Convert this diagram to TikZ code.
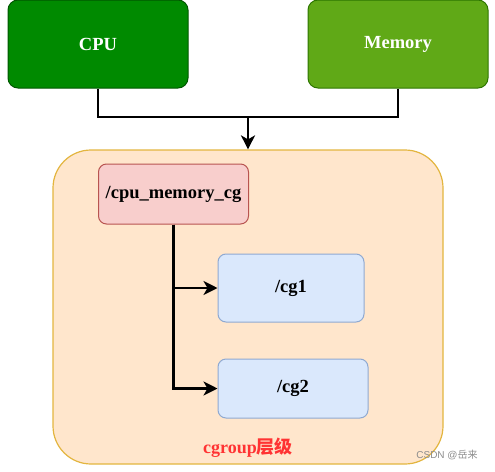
\documentclass[tikz,border=0pt]{standalone}
\usepackage{fontspec}
\setmainfont{Liberation Serif}
\newfontfamily\cjk{Noto Sans CJK SC}
\newfontfamily\wmfont{Liberation Sans}
\usetikzlibrary{arrows.meta}
\definecolor{cpufill}{HTML}{008A00}
\definecolor{cpuline}{HTML}{005700}
\definecolor{memfill}{HTML}{60A917}
\definecolor{memline}{HTML}{2D7600}
\definecolor{grpfill}{HTML}{FFE6CC}
\definecolor{grpline}{HTML}{E3B53F}
\definecolor{redfill}{HTML}{F8CECC}
\definecolor{redline}{HTML}{B85450}
\definecolor{bluefill}{HTML}{DAE8FC}
\definecolor{blueline}{HTML}{8FA9D1}
\definecolor{labred}{HTML}{FF3333}
\tikzset{
  box/.style={draw, line width=1pt, rounded corners=10pt, inner sep=0pt, font=\fontsize{18.5}{21}\selectfont\bfseries},
  conn/.style={line width=2.8pt, -{Stealth[length=14pt,width=14pt,inset=4pt]}},
  plain/.style={line width=2.8pt}
}
\begin{document}
\begin{tikzpicture}[x=1pt,y=-1pt]
\useasboundingbox (0,0) rectangle (495,471);
% container
\node[draw=grpline, fill=grpfill, line width=1.2pt, rounded corners=38pt, minimum width=390pt, minimum height=314pt, inner sep=0pt] (grp) at (248,307) {};
% top boxes
\node[box, draw=cpuline, fill=cpufill, text=white, minimum width=180pt, minimum height=88pt] (cpu) at (98,44) {CPU};
\node[box, draw=memline, fill=memfill, text=white, minimum width=180pt, minimum height=88pt] (mem) at (398,44) {Memory};
% inner boxes
\node[box, draw=redline, fill=redfill, rounded corners=8pt, minimum width=150pt, minimum height=60pt] (root) at (173.5,194) {/cpu\_memory\_cg};
\node[box, draw=blueline, fill=bluefill, rounded corners=8pt, minimum width=146pt, minimum height=68pt] (cg1) at (291,288) {/cg1};
\node[box, draw=blueline, fill=bluefill, rounded corners=8pt, minimum width=150pt, minimum height=59pt] (cg2) at (293,388.5) {/cg2};
% label
\node[font=\fontsize{18}{21}\selectfont\bfseries, text=labred, inner sep=0pt] (lab) at (248,448) {cgroup{\cjk\bfseries 层级}};
\node[font=\wmfont\fontsize{10}{12}\selectfont, text=black!45, inner sep=0pt] (wm) at (447,455) {CSDN @{\cjk 岳来}};
% connectors
\coordinate (j) at (248,117);
\draw[plain] (cpu.south) |- (j);
\draw[plain] (mem.south) |- (j);
\draw[conn] (j) -- (grp.north);
\draw[conn] (root.south) |- (cg1.west);
\draw[conn] (root.south) |- (cg2.west);
\end{tikzpicture}
\end{document}
